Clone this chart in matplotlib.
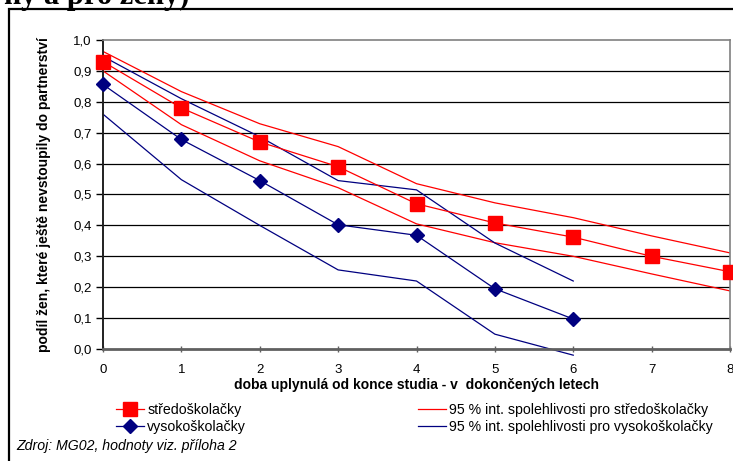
import matplotlib.pyplot as plt
from matplotlib.patches import Rectangle

# data
years = [0, 1, 2, 3, 4, 5, 6, 7, 8]
stredo = [0.930, 0.780, 0.670, 0.590, 0.470, 0.408, 0.362, 0.300, 0.250]
stredo_hi = [0.963, 0.833, 0.729, 0.655, 0.535, 0.473, 0.425, 0.366, 0.311]
stredo_lo = [0.900, 0.726, 0.609, 0.522, 0.405, 0.344, 0.300, 0.243, 0.188]

years_vs = [0, 1, 2, 3, 4, 5, 6]
vysoko = [0.856, 0.678, 0.545, 0.402, 0.368, 0.195, 0.097]
vysoko_hi = [0.947, 0.810, 0.687, 0.545, 0.515, 0.343, 0.220]
vysoko_lo = [0.760, 0.548, 0.400, 0.256, 0.220, 0.048, -0.020]

y_ticks = [0.0, 0.1, 0.2, 0.3, 0.4, 0.5, 0.6, 0.7, 0.8, 0.9, 1.0]

RED = "#FF0000"
NAVY = "#000080"

plt.rcParams['font.family'] = ['Liberation Sans', 'DejaVu Sans']

fig = plt.figure(figsize=(7.33, 4.61), dpi=100)

# outer frame of the pasted chart
fig.patches.append(Rectangle((9 / 733, -0.1), 1.2, 1.1 - 9 / 461, transform=fig.transFigure,
                             fill=False, edgecolor="black", linewidth=1.6))
# heading from the page above, only its bottom shows
fig.text(0.005, 1 - 4 / 461, "ny a pro ženy)", family="Liberation Serif", fontweight="bold",
         fontsize=22, va="baseline", ha="left")

ax = fig.add_axes([103 / 733, 1 - 349 / 461, 627 / 733, 309 / 461])

ax.plot(years, stredo_hi, color=RED, linewidth=0.9)
ax.plot(years, stredo_lo, color=RED, linewidth=0.9)
ax.plot(years_vs, vysoko_hi, color=NAVY, linewidth=0.9)
ax.plot(years_vs, vysoko_lo, color=NAVY, linewidth=0.9, clip_on=False)
l_s, = ax.plot(years, stredo, color=RED, linewidth=0.9, marker="s", markersize=10.5,
               clip_on=False, zorder=5)
l_v, = ax.plot(years_vs, vysoko, color=NAVY, linewidth=0.9, marker="D", markersize=7,
               clip_on=False, zorder=5)

ax.set_xlim(0, 8)
ax.set_ylim(0, 1)
ax.set_yticks(y_ticks)
ax.set_yticklabels([f"{v:.1f}".replace(".", ",") for v in y_ticks])
ax.set_xticks(years)
for v in y_ticks[1:-1]:
    ax.axhline(v, color="black", linewidth=0.9, zorder=0)

for s in ["top", "right"]:
    ax.spines[s].set_color("#808080")
    ax.spines[s].set_linewidth(1.2)
ax.spines["left"].set_color("#202020")
ax.spines["left"].set_linewidth(1.4)
ax.spines["bottom"].set_color("#606060")
ax.spines["bottom"].set_linewidth(2)
ax.tick_params(axis="y", direction="out", length=5, width=1, labelsize=9.5, pad=3)
ax.tick_params(axis="x", direction="inout", length=5, width=1, color="#606060",
               labelsize=9.5, pad=8)

ax.set_xlabel("doba uplynulá od konce studia - v  dokončených letech", fontweight="bold",
              fontsize=10, labelpad=2)
ax.set_ylabel("podíl žen, které ještě nevstoupily do partnerství", fontweight="bold",
              fontsize=10, labelpad=16)

ci_s, = ax.plot([], [], color=RED, linewidth=0.9)
ci_v, = ax.plot([], [], color=NAVY, linewidth=0.9)

leg1 = fig.legend([l_s, l_v], ["středoškolačky", "vysokoškolačky"],
                  loc="upper left", bbox_to_anchor=(116 / 733, 1 - 403 / 461),
                  frameon=False, fontsize=10.2, handlelength=2, handletextpad=0.2,
                  labelspacing=0.2, borderpad=0, borderaxespad=0)
leg2 = fig.legend([ci_s, ci_v], ["95 % int. spolehlivosti pro středoškolačky",
                                 "95 % int. spolehlivosti pro vysokoškolačky"],
                  loc="upper left", bbox_to_anchor=(418 / 733, 1 - 403 / 461),
                  frameon=False, fontsize=10.2, handlelength=2, handletextpad=0.2,
                  labelspacing=0.2, borderpad=0, borderaxespad=0)

fig.text(16 / 733, 1 - 446 / 461, "Zdroj: MG02, hodnoty viz. příloha 2", style="italic",
         fontsize=10.2, va="center", ha="left")

fig.savefig("out.png", dpi=100)
